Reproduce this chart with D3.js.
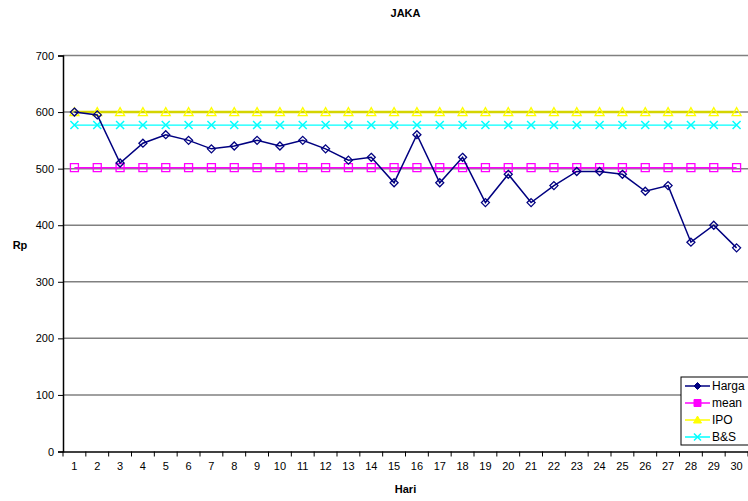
<!DOCTYPE html>
<html><head><meta charset="utf-8">
<script src="https://cdn.jsdelivr.net/npm/d3@7"></script>
<style>body{margin:0;background:#fff}svg{display:block;font-family:Arial,"Liberation Sans",sans-serif}</style>
</head><body>
<svg id="c" width="748" height="501"></svg>
<script>
const days = [1,2,3,4,5,6,7,8,9,10,11,12,13,14,15,16,17,18,19,20,21,22,23,24,25,26,27,28,29,30];
const harga = [600,595,510,545,560,550,535,540,550,540,550,535,515,520,475,560,475,520,440,490,440,470,495,495,490,460,470,370,400,360];
const mean = [501.8,501.8,501.8,501.8,501.8,501.8,501.8,501.8,501.8,501.8,501.8,501.8,501.8,501.8,501.8,501.8,501.8,501.8,501.8,501.8,501.8,501.8,501.8,501.8,501.8,501.8,501.8,501.8,501.8,501.8];
const ipo = [600,600,600,600,600,600,600,600,600,600,600,600,600,600,600,600,600,600,600,600,600,600,600,600,600,600,600,600,600,600];
const bs = [577,577,577,577,577,577,577,577,577,577,577,577,577,577,577,577,577,577,577,577,577,577,577,577,577,577,577,577,577,577];
const yTicks = [0,100,200,300,400,500,600,700];
const seriesNames = ["Harga","mean","IPO","B&S"];

const svg = d3.select("#c");
const L = 63, R = 748, T = 55.5, B = 451.5;
const x = d3.scaleBand().domain(days).range([L, R]);
const y = d3.scaleLinear().domain([0,700]).range([B, T]);
const cx = d => x(d) + x.bandwidth()/2;

// gridlines
svg.append("g").selectAll("line").data(yTicks.filter(v=>v>0)).join("line")
  .attr("x1", L).attr("x2", R).attr("y1", d=>y(d)).attr("y2", d=>y(d))
  .attr("stroke", "#808080").attr("stroke-width", 1.5);

// axes
const ya = svg.append("g").attr("transform", `translate(${L},0)`)
  .call(d3.axisLeft(y).tickValues(yTicks).tickSize(5).tickPadding(4));
ya.select(".domain").attr("stroke","#000").attr("stroke-width",1.5);
ya.selectAll("text").attr("font-size", 11).attr("fill","#000").attr("font-family","Arial");
const xa = svg.append("g").attr("transform", `translate(0,${B})`)
  .call(d3.axisBottom(x).tickSize(0).tickPadding(11));
xa.select(".domain").attr("stroke","#000").attr("stroke-width",1.5);
xa.selectAll("text").attr("font-size", 11).attr("fill","#000").attr("font-family","Arial");
// x tick marks at band boundaries
svg.append("g").selectAll("line").data(days).join("line")
  .attr("x1", d=>x(d)+x.bandwidth()).attr("x2", d=>x(d)+x.bandwidth())
  .attr("y1", B).attr("y2", B+5).attr("stroke","#000").attr("stroke-width",1);
svg.append("line").attr("x1",L).attr("x2",L).attr("y1",B).attr("y2",B+5).attr("stroke","#000");

// titles
svg.append("text").attr("x", (L+R)/2).attr("y", 17).attr("text-anchor","middle")
  .attr("font-size", 11).attr("font-weight","bold").text("JAKA");
svg.append("text").attr("x", (L+R)/2).attr("y", 493).attr("text-anchor","middle")
  .attr("font-size", 11).attr("font-weight","bold").text("Hari");
svg.append("text").attr("x", 20).attr("y", 249).attr("text-anchor","middle")
  .attr("font-size", 11).attr("font-weight","bold").text("Rp");

const line = d3.line().x((d,i)=>cx(days[i])).y(d=>y(d));

function markers(g, data, type, color, fill) {
  const s = g.selectAll("path.m").data(data).join("path").attr("class","m")
    .attr("transform",(d,i)=>`translate(${cx(days[i])},${y(d)})`)
    .attr("fill", fill).attr("stroke", color).attr("stroke-width", 1.3);
  if (type==="diamond") s.attr("d","M0,-4L4,0L0,4L-4,0Z");
  if (type==="square") s.attr("d","M-4,-4H4V4H-4Z");
  if (type==="triangle") s.attr("d","M0,-4.5L4.5,3.5H-4.5Z");
  if (type==="x") s.attr("d","M-4,-4L4,4M4,-4L-4,4").attr("fill","none").attr("stroke-width",1.5);
}

// B&S
const gB = svg.append("g");
gB.append("path").datum(bs).attr("d", line).attr("fill","none").attr("stroke","#00FFFF").attr("stroke-width",1.2);
markers(gB, bs, "x", "#00FFFF", "none");
// mean
const gM = svg.append("g");
gM.append("path").datum(mean).attr("d", line).attr("fill","none").attr("stroke","#FF00FF").attr("stroke-width",1.5);
markers(gM, mean, "square", "#FF00FF", "none");
// IPO
const gI = svg.append("g");
gI.append("path").datum(ipo).attr("d", line).attr("fill","none").attr("stroke","#D4D400").attr("stroke-width",2.5);
markers(gI, ipo, "triangle", "#FFFF00", "none");
// Harga
const gH = svg.append("g");
gH.append("path").datum(harga).attr("d", line).attr("fill","none").attr("stroke","#000080").attr("stroke-width",1.5);
markers(gH, harga, "diamond", "#000080", "none");

// legend
const lg = svg.append("g");
lg.append("rect").attr("x", 681).attr("y", 377).attr("width", 70).attr("height", 68)
  .attr("fill","#fff").attr("stroke","#000").attr("stroke-width",1);
const legColors = ["#000080","#FF00FF","#FFFF00","#00FFFF"];
const legTypes = ["diamond","square","triangle","x"];
const legY = [386, 403, 420, 437];
seriesNames.forEach((n,i)=>{
  const gy = legY[i];
  lg.append("line").attr("x1",685).attr("x2",710).attr("y1",gy).attr("y2",gy).attr("stroke",legColors[i]).attr("stroke-width",1.5);
  const m = lg.append("path").attr("transform",`translate(697.5,${gy})`).attr("fill",legColors[i]).attr("stroke",legColors[i]);
  if (legTypes[i]==="diamond") m.attr("d","M0,-3.5L3.5,0L0,3.5L-3.5,0Z");
  if (legTypes[i]==="square") m.attr("d","M-3.5,-3.5H3.5V3.5H-3.5Z");
  if (legTypes[i]==="triangle") m.attr("d","M0,-4L4,3H-4Z");
  if (legTypes[i]==="x") m.attr("d","M-3.5,-3.5L3.5,3.5M3.5,-3.5L-3.5,3.5").attr("fill","none").attr("stroke-width",1.5);
  lg.append("text").attr("x", 712).attr("y", gy+4).attr("font-size", 12).text(n);
});
</script>
</body></html>
